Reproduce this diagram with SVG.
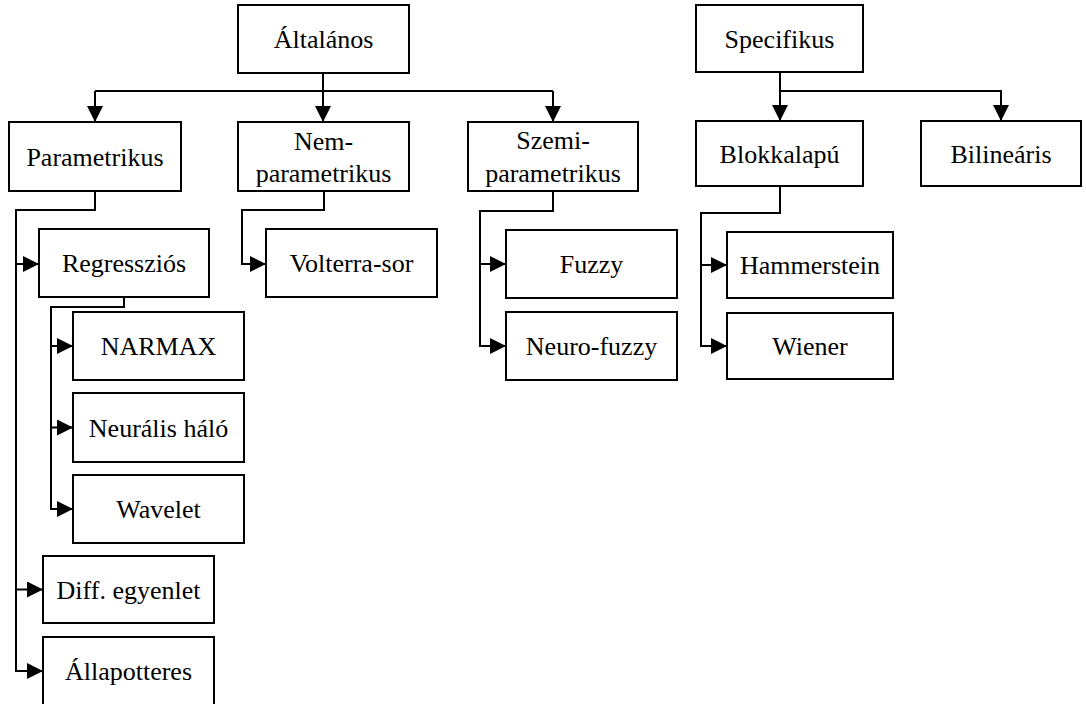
<svg xmlns="http://www.w3.org/2000/svg" width="1086" height="704" viewBox="0 0 1086 704">
<style>
.box{fill:#fff;stroke:#000;stroke-width:2}
.lbl{font-family:'Liberation Serif','DejaVu Serif',serif;font-size:26px;fill:#000;text-anchor:middle}
.con{fill:none;stroke:#000;stroke-width:2}
</style>
<defs>
<marker id="arr" markerWidth="18" markerHeight="18" refX="16" refY="8" orient="auto" markerUnits="userSpaceOnUse">
<path d="M0,0 L16,8 L0,16 Z" fill="#000"/>
</marker>
</defs>
<rect width="1086" height="704" fill="#fff"/>
<g id="connectors">
<path class="con" d="M323,73 V122" marker-end="url(#arr)"/>
<path class="con" d="M95,91 H553"/>
<path class="con" d="M95,91 V122" marker-end="url(#arr)"/>
<path class="con" d="M553,91 V122" marker-end="url(#arr)"/>
<path class="con" d="M780,72 V121" marker-end="url(#arr)"/>
<path class="con" d="M780,91 H1001 V121" marker-end="url(#arr)"/>
<path class="con" d="M95,191 V210 H16 V671 H43" marker-end="url(#arr)"/>
<path class="con" d="M16,264 H39" marker-end="url(#arr)"/>
<path class="con" d="M16,589.5 H43" marker-end="url(#arr)"/>
<path class="con" d="M124,297 V307 H51 V509 H73" marker-end="url(#arr)"/>
<path class="con" d="M51,346 H73" marker-end="url(#arr)"/>
<path class="con" d="M51,427.5 H73" marker-end="url(#arr)"/>
<path class="con" d="M324,191 V210 H242 V264 H266" marker-end="url(#arr)"/>
<path class="con" d="M553,191 V211 H480 V346 H506" marker-end="url(#arr)"/>
<path class="con" d="M480,264 H506" marker-end="url(#arr)"/>
<path class="con" d="M780,186 V213 H701 V346 H727" marker-end="url(#arr)"/>
<path class="con" d="M701,265 H727" marker-end="url(#arr)"/>
</g>
<g font-family="Liberation Serif, serif">
<g id="altalanos"><rect class="box" x="238" y="5" width="171" height="68"/><text class="lbl" x="323.5" y="48">Általános</text></g>
<g id="specifikus"><rect class="box" x="696" y="5" width="167" height="67"/><text class="lbl" x="779.5" y="47.5">Specifikus</text></g>
<g id="parametrikus"><rect class="box" x="9" y="122" width="172" height="69"/><text class="lbl" x="95" y="166">Parametrikus</text></g>
<g id="nemparametrikus"><rect class="box" x="238" y="122" width="171" height="69"/><text class="lbl" x="323.5" y="150">Nem-</text><text class="lbl" x="323.5" y="182">parametrikus</text></g>
<g id="szemiparametrikus"><rect class="box" x="468" y="122" width="170" height="69"/><text class="lbl" x="553" y="149">Szemi-</text><text class="lbl" x="553" y="182">parametrikus</text></g>
<g id="blokkalapu"><rect class="box" x="696" y="121" width="167" height="65"/><text class="lbl" x="779.5" y="162.5">Blokkalapú</text></g>
<g id="bilinearis"><rect class="box" x="921" y="121" width="160" height="65"/><text class="lbl" x="1001" y="162.5">Bilineáris</text></g>
<g id="regresszios"><rect class="box" x="39" y="229" width="170" height="68"/><text class="lbl" x="124" y="272">Regressziós</text></g>
<g id="volterra"><rect class="box" x="266" y="229" width="171" height="68"/><text class="lbl" x="351.5" y="272">Volterra-sor</text></g>
<g id="fuzzy"><rect class="box" x="506" y="230" width="171" height="68"/><text class="lbl" x="591.5" y="273">Fuzzy</text></g>
<g id="hammerstein"><rect class="box" x="727" y="232" width="166" height="66"/><text class="lbl" x="810" y="274">Hammerstein</text></g>
<g id="narmax"><rect class="box" x="73" y="312" width="171" height="68"/><text class="lbl" x="158.5" y="355">NARMAX</text></g>
<g id="neurofuzzy"><rect class="box" x="506" y="312" width="171" height="68"/><text class="lbl" x="591.5" y="355">Neuro-fuzzy</text></g>
<g id="wiener"><rect class="box" x="727" y="313" width="166" height="66"/><text class="lbl" x="810" y="355">Wiener</text></g>
<g id="neuralis"><rect class="box" x="73" y="393" width="171" height="69"/><text class="lbl" x="158.5" y="436.5">Neurális háló</text></g>
<g id="wavelet"><rect class="box" x="73" y="475" width="171" height="68"/><text class="lbl" x="158.5" y="518">Wavelet</text></g>
<g id="diff"><rect class="box" x="43" y="556" width="171" height="67"/><text class="lbl" x="128.5" y="598.5">Diff. egyenlet</text></g>
<g id="allapotteres"><rect class="box" x="43" y="637" width="171" height="68"/><text class="lbl" x="128.5" y="680">Állapotteres</text></g>
</g>
</svg>
